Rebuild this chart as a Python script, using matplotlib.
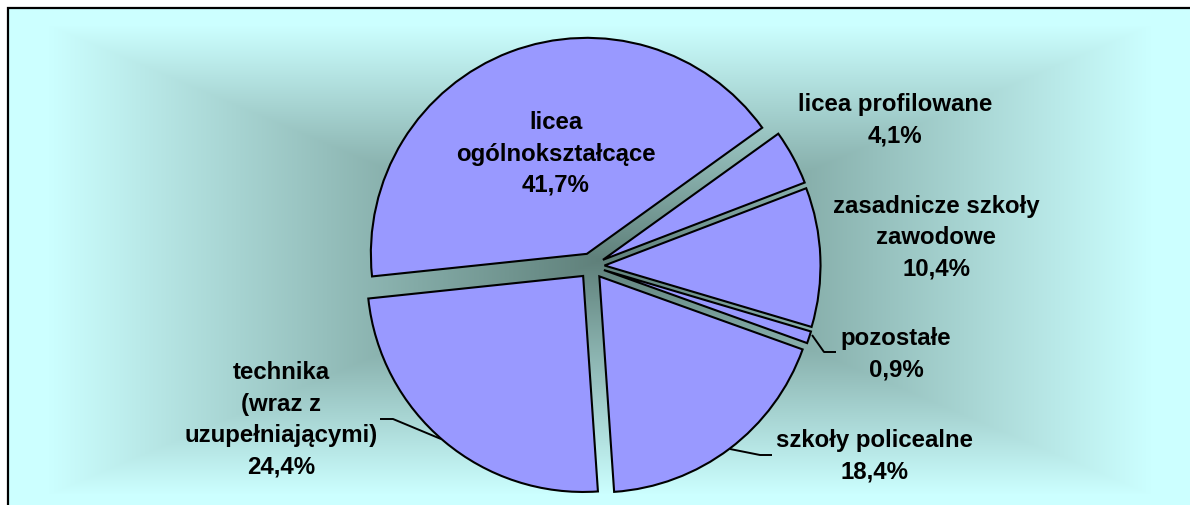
import numpy as np
import matplotlib
matplotlib.use("Agg")
import matplotlib.pyplot as plt
from matplotlib.patches import Rectangle

# ---- data ----
categories = ["licea\nogólnokształcące", "licea profilowane", "zasadnicze szkoły\nzawodowe",
              "pozostałe", "szkoły policealne", "technika\n(wraz z\nuzupełniającymi)"]
values = [41.7, 4.1, 10.4, 0.9, 18.4, 24.4]
pct_labels = ["41,7%", "4,1%", "10,4%", "0,9%", "18,4%", "24,4%"]

W, H = 1190, 505
fig = plt.figure(figsize=(W / 100, H / 100), dpi=100)
ax = fig.add_axes([0, 0, 1, 1])
fig.patch.set_facecolor("white")

def Y(py):
    return H - py

# ---- background gradient (rectangular, from centre) ----
x0, x1, y0, y1 = 8, 1192, 8, 512
cx, cy = 600, 260
xs = np.arange(x0, x1) + 0.5
ys = np.arange(y0, y1) + 0.5
XX, YY = np.meshgrid(xs, ys)
t = np.maximum(np.abs(XX - cx) / (cx - x0), np.abs(YY - cy) / (cy - y0))
t = np.clip(t / 0.93, 0, 1)
c_in = np.array([95, 128, 122]) / 255
c_out = np.array([204, 255, 255]) / 255
img = c_in[None, None, :] + t[..., None] * (c_out - c_in)[None, None, :]
ax.imshow(img, extent=(x0, x1, Y(y1), Y(y0)), origin="upper", zorder=0, interpolation="bilinear")

# ---- pie ----
R = 216
C = (591.5, Y(266))
wedges, _ = ax.pie(values, startangle=186, counterclock=False, explode=[13] * len(values),
                   radius=R, center=C, colors=["#9999FF"] * len(values),
                   wedgeprops=dict(edgecolor="black", linewidth=1.5), frame=True)
for w in wedges:
    w.set_zorder(2)

ax.set_xlim(0, W)
ax.set_ylim(0, H)
ax.set_aspect("equal")
ax.axis("off")

# border
ax.add_patch(Rectangle((8, Y(520)), 1200, 512, fill=False, edgecolor="black", linewidth=1.6, zorder=5))

# ---- labels ----
font = dict(family=["Liberation Sans", "DejaVu Sans"], fontweight="bold", fontsize=17.3,
            ha="center", va="center", linespacing=1.47, color="black", zorder=6)
label_pos = [(556, 154), (895, 120), (936, 238), (896, 354), (874, 456), (281, 420)]
for cat, pct, (px, py) in zip(categories, pct_labels, label_pos):
    ax.text(px, Y(py), cat + "\n" + pct, **font)

# leader lines
leaders = [
    [(812, 335), (824, 352), (836, 352)],
    [(730, 449), (760, 455), (772, 455)],
    [(441, 439), (393, 419), (380, 419)],
]
for pts in leaders:
    ax.plot([p[0] for p in pts], [Y(p[1]) for p in pts], color="black", linewidth=1.4, zorder=6,
            solid_capstyle="butt")

fig.savefig("out.png", dpi=100)
